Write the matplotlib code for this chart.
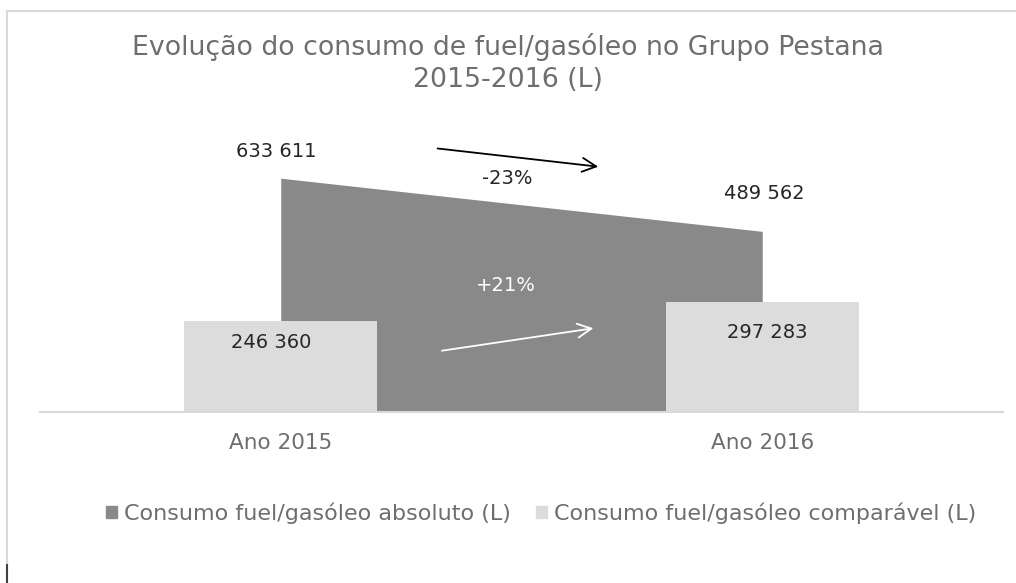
import matplotlib
matplotlib.use("Agg")
import matplotlib.pyplot as plt
from matplotlib.patches import Patch
from matplotlib.lines import Line2D

# ── data ──
categories = ["Ano 2015", "Ano 2016"]
absoluto = [633611, 489562]      # area series (L)
comparavel = [246360, 297283]    # column series (L)
series_names = ["Consumo fuel/gasóleo absoluto (L)",
                "Consumo fuel/gasóleo comparável (L)"]
title = "Evolução do consumo de fuel/gasóleo no Grupo Pestana\n2015-2016 (L)"

DARK = "#898989"
LIGHT = "#dcdcdc"
TXT = "#6e6e6e"
NUM = "#262626"

plt.rcParams["font.family"] = ["DejaVu Sans"]

W, H = 1016, 583
fig = plt.figure(figsize=(W / 100, H / 100), dpi=100)


def px(x, y):
    # figure pixel (from top-left) -> figure fraction
    return x / W, 1 - y / H


# plot area: baseline at y=412 px, x from 40 to 1003 px
ymax = 700000
ax_h = ymax * 3.69e-4
ax = fig.add_axes([40 / W, (H - 412) / H, (1003 - 40) / W, ax_h / H])

x = list(range(len(categories)))
ax.fill_between(x, absoluto, color=DARK, linewidth=0, zorder=1)
ax.bar(x, comparavel, width=0.4, color=LIGHT, zorder=2)

ax.set_xlim(-0.5, 1.5)
ax.set_ylim(0, ymax)
ax.set_xticks(x)
ax.set_xticklabels(categories, fontsize=15.5, color=TXT)
ax.tick_params(axis="x", length=0, pad=15)
ax.set_yticks([])
for s in ["top", "left", "right"]:
    ax.spines[s].set_visible(False)
ax.spines["bottom"].set_color("#d9d9d9")
ax.spines["bottom"].set_linewidth(1.5)
ax.spines["bottom"].set_zorder(3)

# data labels (offset in pixels from each value)
abs_offsets = [(-5, 27), (2, 38)]
cmp_offsets = [(-10, -21), (5, -30)]
for i, v in enumerate(absoluto):
    ax.annotate(f"{v:,}".replace(",", " "), (x[i], v), xytext=abs_offsets[i],
                textcoords="offset pixels", ha="center", va="center",
                fontsize=14, color=NUM, annotation_clip=False)
for i, v in enumerate(comparavel):
    ax.annotate(f"{v:,}".replace(",", " "), (x[i], v), xytext=cmp_offsets[i],
                textcoords="offset pixels", ha="center", va="center",
                fontsize=14, color=NUM, zorder=5)

# change arrows + percentages
pct_abs = round((absoluto[1] / absoluto[0] - 1) * 100)
pct_cmp = round((comparavel[1] / comparavel[0] - 1) * 100)
ax.annotate("", xy=(0.665, 664000), xytext=(0.320, 715000),
            arrowprops=dict(arrowstyle="->,head_length=1.0,head_width=0.5",
                            color="black", lw=1.3),
            annotation_clip=False)
ax.text(0.47, 634000, f"{pct_abs:d}%", ha="center", va="center",
        fontsize=14, color=NUM)
ax.annotate("", xy=(0.655, 228000), xytext=(0.329, 165000),
            arrowprops=dict(arrowstyle="->,head_length=1.0,head_width=0.5",
                            color="white", lw=1.3), zorder=6)
ax.text(0.468, 344000, f"+{pct_cmp:d}%", ha="center", va="center",
        fontsize=14, color="white", zorder=6)

# title
fig.text(0.5, 1 - 63 / H, title, ha="center", va="center", fontsize=19.3,
         color=TXT, linespacing=1.3)

# legend
handles = [Patch(color=DARK), Patch(color=LIGHT)]
fig.legend(handles, series_names, loc="center", bbox_to_anchor=px(541, 513),
           ncol=2, frameon=False, fontsize=16, labelcolor=TXT,
           handlelength=0.5, handleheight=0.5, handletextpad=0.3,
           columnspacing=1.15)

# outer frame
fig.add_artist(Line2D([7 / W, 1], [1 - 11 / H] * 2, color="#d9d9d9", lw=1.5))
fig.add_artist(Line2D([7 / W] * 2, [1 - 11 / H, 1 - 565 / H], color="#d9d9d9", lw=1.5))
fig.add_artist(Line2D([7 / W] * 2, [1 - 565 / H, 0], color="#404040", lw=1.5))

fig.savefig("out.png", dpi=100, facecolor="white")
